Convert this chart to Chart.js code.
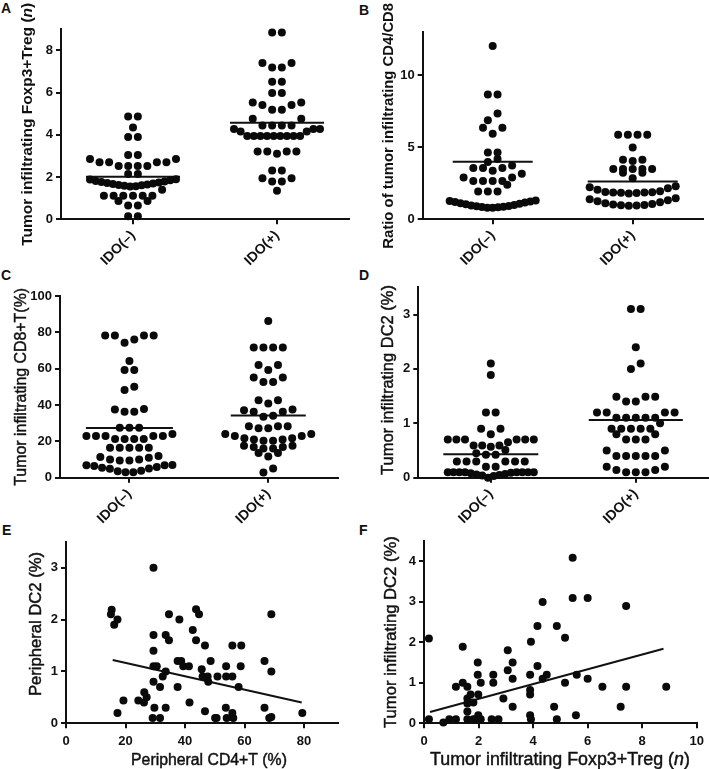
<!DOCTYPE html>
<html><head><meta charset="utf-8">
<script src="https://cdn.jsdelivr.net/npm/chart.js@4.4.1/dist/chart.umd.min.js"></script>
<style>
html,body{margin:0;padding:0;background:#fff;}
body{width:709px;height:769px;position:relative;overflow:hidden;font-family:"Liberation Sans",Arial,sans-serif;}
canvas{position:absolute;}
.lbl{position:absolute;font-weight:bold;font-size:14px;line-height:14px;color:#111;}
</style></head><body>
<div class="lbl" style="left:1px;top:1px">A</div>
<div class="lbl" style="left:359px;top:3px">B</div>
<div class="lbl" style="left:1px;top:268px">C</div>
<div class="lbl" style="left:359px;top:268px">D</div>
<div class="lbl" style="left:2px;top:523px">E</div>
<div class="lbl" style="left:359px;top:523px">F</div>
<canvas id="cA" width="355" height="272" style="left:0px;top:0px"></canvas>
<canvas id="cB" width="354" height="272" style="left:355px;top:0px"></canvas>
<canvas id="cC" width="355" height="272" style="left:0px;top:260px"></canvas>
<canvas id="cD" width="354" height="272" style="left:355px;top:260px"></canvas>
<canvas id="cE" width="355" height="239" style="left:0px;top:530px"></canvas>
<canvas id="cF" width="354" height="239" style="left:355px;top:530px"></canvas>
<script>
// ---------- DATA ----------
const groups = ['IDO(–)', 'IDO(+)'];

// A: Tumor infiltrating Foxp3+Treg (n)
const tregNeg = [0.15,0.15,0.65,0.65,0.87,0.87,1.12,1.12,1.12,1.12,1.12,1.12,1.4,
  1.55,1.57,1.59,1.61,1.63,1.65,1.67,1.7,1.72,1.74,1.77,1.79,1.82,1.85,1.88,1.9,
  2.15,2.15,2.52,2.52,2.52,2.52,2.7,2.7,2.7,2.7,2.86,2.86,3.05,3.05,3.9,3.9,4.35,4.87,4.87];
const tregPos = [1.35,1.79,1.79,1.94,1.94,2.31,2.31,3.1,3.21,3.21,3.21,3.21,
  3.95,3.95,3.95,3.95,3.95,3.95,3.95,3.95,3.95,4.16,4.16,4.28,4.28,4.28,
  4.44,4.44,4.44,4.44,4.76,4.76,5.19,5.19,5.41,5.41,5.53,5.53,5.98,5.98,6.51,6.51,
  7.19,7.19,7.4,7.4,8.85,8.85];
const tregMean = [2.02, 4.57];
const tregTicks = [0,2,4,6,8];

// B: Ratio of tumor infiltrating CD4/CD8
const ratioNeg = [0.8,0.81,0.83,0.85,0.87,0.9,0.93,0.96,1.0,1.04,1.08,1.12,1.16,1.2,1.24,1.27,1.3,
  1.93,1.93,1.93,2.4,2.67,2.67,2.67,2.67,2.9,2.9,3.16,3.37,3.56,3.56,3.56,3.74,3.98,4.19,
  4.65,4.65,5.95,6.37,6.37,6.88,7.35,8.67,8.67,12.05];
const ratioPos = [0.95,0.96,0.98,1.0,1.03,1.06,1.12,1.18,1.25,1.32,1.4,1.46,
  1.8,1.82,1.84,1.86,1.86,1.88,1.9,1.95,2.05,2.16,2.23,2.3,
  2.86,3.23,3.23,3.49,3.49,3.49,3.49,3.49,4.05,4.14,4.14,5.0,5.88,5.88,5.88,5.88];
const ratioMean = [4.0, 2.63];
const ratioTicks = [0,5,10];

// C: Tumor infiltrating CD8+T (%)
const cd8Neg = [3.0,3.0,3.6,3.8,4.9,5.0,5.5,5.9,6.4,6.8,6.9,7.0,
  9.5,9.5,10,10,11,11.4,12,16.5,16.5,16.5,16.5,16.5,
  21.3,21.3,21.3,21.3,22.9,22.9,22.9,22.9,22.9,24,27.5,27.5,27.5,
  36.3,36.3,37.5,37.8,48.3,50.1,59.3,59.3,64.2,74.3,76.1,78.2,78.2,78.2,78.2];
const cd8Pos = [2.9,5.1,11.7,13.6,13.6,16.1,16.1,16.9,16.9,17.6,17.6,
  20.4,20.4,21,21,21.7,21.7,22.9,22.9,24,24,27.2,27.2,28.3,28.3,28.3,
  33.5,34.1,36.3,36.3,37.1,37.5,40.9,42.6,42.6,52.7,52.7,55.2,55.2,59.3,62,62,
  71.6,71.6,71.6,71.6,86.2];
const cd8Mean = [27.3, 34.3];
const cd8Ticks = [0,20,40,60,80,100];

// D: Tumor infiltrating DC2 (%)
const dc2Neg = [0.0,0.03,0.04,0.05,0.06,0.07,0.08,0.09,0.1,0.1,0.1,0.1,0.1,0.1,0.1,0.1,
  0.2,0.2,0.3,0.3,0.3,0.3,0.3,0.3,0.42,0.42,0.45,0.51,
  0.57,0.59,0.59,0.59,0.65,0.7,0.7,0.7,0.7,0.7,0.7,0.8,0.9,0.9,1.2,1.2,1.89,2.1];
const dc2Pos = [0.1,0.1,0.1,0.14,0.14,0.2,0.2,0.4,0.4,0.4,0.4,0.4,0.5,0.5,
  0.7,0.7,0.7,0.8,0.8,0.9,0.9,0.9,0.9,0.9,1.0,1.1,1.1,1.1,1.1,1.1,1.2,1.2,1.2,1.2,
  1.4,1.4,1.49,1.49,1.49,2.0,2.1,2.4,3.1,3.1];
const dc2Mean = [0.43, 1.06];
const dc2Ticks = [0,1,2,3];

// E: Peripheral CD4+T (%) vs Peripheral DC2 (%)
const periCD4 = [15.35,15.1,16.2,17.3,17.3,19.3,24.3,26.2,26.3,27.1,29.4,29.4,29.4,29.4,30.5,29.4,29.7,29.1,31.6,31.6,
  32.5,33.5,33.5,34.6,34.6,33.5,37.5,38.1,37.5,38.7,39.4,41.3,41.5,42.6,43.7,44.7,43.7,45.6,45.9,46.7,
  47.6,47.8,46.7,48.6,50.1,50.6,50.9,53.8,53.8,53.7,54,55.9,55.9,55.9,56.2,58,58.7,58.9,66.7,66.7,
  68.3,69,69,69,79.4];
const periDC2 = [2.19,2.1,1.9,2.0,0.2,0.44,0.44,0.4,0.6,0.5,3.0,1.7,1.4,1.1,1.1,0.8,0.3,0.1,0.1,0.7,
  0.9,1.0,1.7,1.6,2.1,0.3,0.7,2.0,1.2,1.2,1.1,1.1,0.4,1.8,2.2,2.1,1.6,1.04,0.9,1.5,
  0.9,0.8,0.23,1.2,0.1,0.1,0.9,1.1,0.9,0.3,0.1,1.5,0.9,0.2,0.1,0.7,1.1,1.5,1.2,0.3,
  0.1,0.12,1.0,2.1,0.2];
const fitEx = [15.7, 79.2];
const fitEy = [1.22, 0.40];
const eXTicks = [0,20,40,60,80];
const eYTicks = [0,1,2,3];

// F: Tumor infiltrating Foxp3+Treg (n) vs Tumor infiltrating DC2 (%)
const tumTreg = [0.18,0.18,0.71,0.93,1.17,1.17,1.42,1.42,1.59,1.59,1.59,1.59,1.59,1.71,1.81,1.87,1.97,1.97,1.99,1.99,
  2.08,2.08,1.81,2.48,2.54,2.54,2.73,2.91,3.07,3.07,3.25,3.25,3.25,3.89,3.92,3.89,3.89,3.89,3.92,4.16,
  4.16,4.35,4.35,4.5,4.77,4.87,4.87,5.17,5.17,5.45,5.45,5.6,5.57,6.0,6.0,6.54,7.21,7.41,7.41,8.88];
const tumDC2 = [2.09,0.1,0.02,0.1,0.1,0.9,1.89,1.0,0.9,0.61,0.49,0.29,0.1,0.71,0.51,0.1,1.5,1.2,0.71,0.2,
  0.1,1.0,0.1,0.1,1.2,1.0,0.1,0.61,1.8,1.31,1.5,1.1,0.41,1.2,2.01,0.82,0.71,0.2,0.1,1.41,
  2.4,2.99,1.1,1.2,0.41,2.4,0.1,2.11,1.0,4.08,3.09,1.2,0.2,3.09,1.1,0.9,0.41,2.89,0.9,0.9];
const fitFx = [0.22, 8.78];
const fitFy = [0.28, 1.84];
const fXTicks = [0,2,4,6,8,10];
const fYTicks = [0,1,2,3,4];

// ---------- RENDERING ----------
const FONT = '"Liberation Sans", Arial, Helvetica, sans-serif';
const INK = '#111';
Chart.defaults.font.family = FONT;
Chart.defaults.color = INK;
Chart.defaults.animation = false;

// draws a (possibly mixed italic) title centred at x,y, sized to span `len` pixels
function drawRich(ctx, t, x, y, rot) {
  ctx.save();
  ctx.translate(x, y);
  ctx.rotate(rot);
  ctx.fillStyle = INK;
  ctx.strokeStyle = INK;
  ctx.lineWidth = 0.45;
  ctx.lineJoin = 'round';
  ctx.textBaseline = 'middle';
  ctx.textAlign = 'left';
  const w = t.bold ? 'bold ' : '';
  const fontOf = (p, size) => (p.i ? 'italic ' : '') + w + size + 'px ' + FONT;
  const measure = size => t.parts.reduce((s, p) => { ctx.font = fontOf(p, size); return s + ctx.measureText(p.t).width; }, 0);
  const size = 20 * t.len / measure(20);
  const total = measure(size);
  let cx = -total / 2;
  t.parts.forEach(p => {
    ctx.font = fontOf(p, size);
    ctx.fillText(p.t, cx, 0);
    if (!t.bold) ctx.strokeText(p.t, cx, 0);
    cx += ctx.measureText(p.t).width;
  });
  ctx.restore();
}
const titlePlugin = {
  id: 'panelTitles',
  afterDraw(chart, args, opts) {
    const ca = chart.chartArea, ctx = chart.ctx;
    if (opts.y) drawRich(ctx, opts.y, opts.y.x, opts.y.cy != null ? opts.y.cy : (ca.top + ca.bottom) / 2, -Math.PI / 2);
    if (opts.x) drawRich(ctx, opts.x, opts.x.cx != null ? opts.x.cx : (ca.left + ca.right) / 2, opts.x.y, 0);
  }
};

function axisStyle(extra) {
  return Object.assign({
    grid: {display: true, drawOnChartArea: false, drawTicks: true, tickLength: 5, color: INK, lineWidth: 2},
    border: {display: true, color: INK, width: 2},
  }, extra);
}

function baseOptions(W, H, box, scales, titles) {
  return {
    responsive: false, animation: false, events: [],
    layout: {autoPadding: false, padding: {top: box.top, right: W - box.right, left: 0, bottom: 0}},
    plugins: {legend: {display: false}, tooltip: {enabled: false}, panelTitles: titles},
    scales: scales
  };
}

const dotStyle = {pointRadius: 4, pointHoverRadius: 4, pointBackgroundColor: '#0a0a0a', pointBorderWidth: 0, showLine: false, clip: false};
const lineStyle = {type: 'line', borderColor: INK, borderWidth: 2, pointRadius: 0, fill: false, clip: false};
const tickFont = {size: 13, weight: 'bold'};

const ROW_T = 7.5, SPACING = 9.7, MAX_ROW = 86;
function swarm(chart, values, cx) {
  const xs = chart.scales.x, ys = chart.scales.y;
  const cpx = xs.getPixelForValue(cx);
  const sorted = values.slice().sort((a, b) => a - b);
  const rows = [];
  let cur = null;
  for (const v of sorted) {
    const py = ys.getPixelForValue(v);
    if (!cur || cur.p0 - py > ROW_T) { cur = {p0: py, vals: []}; rows.push(cur); }
    cur.vals.push(v);
  }
  const pts = [];
  for (const r of rows) {
    const n = r.vals.length;
    const s = n > 1 ? Math.min(SPACING, MAX_ROW / (n - 1)) : 0;
    r.vals.forEach((v, k) => {
      let off;
      if (n % 2) { const m = Math.ceil(k / 2); off = (k % 2 ? -m : m); }
      else { const m = Math.floor(k / 2) + 0.5; off = (k % 2 ? m : -m); }
      pts.push({x: xs.getValueForPixel(cpx + off * s), y: v});
    });
  }
  return pts;
}

function dotPlot(id, neg, pos, means, yMax, yTicks, box, yTitle, halfPx) {
  const cv = document.getElementById(id);
  const W = cv.width, H = cv.height;
  const scales = {
    x: axisStyle({type: 'linear', min: 0, max: groups.length,
      afterBuildTicks: s => { s.ticks = groups.map((g, i) => ({value: i + 0.5})); },
      afterFit: s => { s.height = H - box.bottom; },
      ticks: {autoSkip: false, minRotation: 45, maxRotation: 45, padding: 3,
        font: {size: 14, weight: 'bold'}, color: INK, callback: (v, i) => groups[i]}}),
    y: axisStyle({type: 'linear', min: 0, max: yMax,
      afterBuildTicks: s => { s.ticks = yTicks.map(v => ({value: v})); },
      afterFit: s => { s.width = box.left; },
      ticks: {padding: 3, font: tickFont, color: INK}})
  };
  const chart = new Chart(cv, {
    type: 'scatter',
    data: {datasets: [
      Object.assign({data: []}, dotStyle),
      Object.assign({data: []}, dotStyle),
      Object.assign({data: []}, lineStyle),
      Object.assign({data: []}, lineStyle)
    ]},
    options: baseOptions(W, H, box, scales, {y: yTitle}),
    plugins: [titlePlugin]
  });
  const xs = chart.scales.x;
  [neg, pos].forEach((vals, i) => {
    const c = i + 0.5;
    chart.data.datasets[i].data = swarm(chart, vals, c);
    const cpx = xs.getPixelForValue(c);
    chart.data.datasets[i + 2].data = [
      {x: xs.getValueForPixel(cpx - halfPx[i]), y: means[i]},
      {x: xs.getValueForPixel(cpx + halfPx[i]), y: means[i]}
    ];
  });
  chart.update('none');
  return chart;
}

function scatterPlot(id, xv, yv, fx, fy, xMax, yMax, xTicks, yTicks, box, titles) {
  const cv = document.getElementById(id);
  const W = cv.width, H = cv.height;
  const scales = {
    x: axisStyle({type: 'linear', min: 0, max: xMax,
      afterBuildTicks: s => { s.ticks = xTicks.map(v => ({value: v})); },
      afterFit: s => { s.height = H - box.bottom; },
      ticks: {autoSkip: false, maxRotation: 0, padding: 5, font: tickFont, color: INK}}),
    y: axisStyle({type: 'linear', min: 0, max: yMax,
      afterBuildTicks: s => { s.ticks = yTicks.map(v => ({value: v})); },
      afterFit: s => { s.width = box.left; },
      ticks: {padding: 3, font: tickFont, color: INK}})
  };
  return new Chart(cv, {
    type: 'scatter',
    data: {datasets: [
      Object.assign({data: xv.map((x, i) => ({x: x, y: yv[i]}))}, dotStyle),
      Object.assign({data: fx.map((x, i) => ({x: x, y: fy[i]}))}, lineStyle)
    ]},
    options: baseOptions(W, H, box, scales, titles),
    plugins: [titlePlugin]
  });
}

const P = s => [{t: s}];
const tregTitle = [{t: 'Tumor infiltrating Foxp3+Treg ('}, {t: 'n', i: true}, {t: ')'}];

dotPlot('cA', tregNeg, tregPos, tregMean, 9, tregTicks,
  {left: 61, top: 29.3, right: 349, bottom: 219.3},
  {parts: tregTitle, bold: true, len: 243, x: 27.5}, [47, 47]);
dotPlot('cB', ratioNeg, ratioPos, ratioMean, 13, ratioTicks,
  {left: 67.7, top: 32.3, right: 347.7, bottom: 219.3},
  {parts: P('Ratio of tumor infiltrating CD4/CD8'), bold: true, len: 246, x: 33.5}, [40, 45]);
dotPlot('cC', cd8Neg, cd8Pos, cd8Mean, 100, cd8Ticks,
  {left: 60, top: 36, right: 337.7, bottom: 217.7},
  {parts: P('Tumor infiltrating CD8+T(%)'), len: 198, x: 21.7}, [43.5, 37.5]);
dotPlot('cD', dc2Neg, dc2Pos, dc2Mean, 3.5, dc2Ticks,
  {left: 63.3, top: 27.3, right: 353.3, bottom: 217.7},
  {parts: P('Tumor infiltrating DC2 (%)'), len: 190, x: 33.5, cy: 120}, [47.5, 47]);
scatterPlot('cE', periCD4, periDC2, fitEx, fitEy, 91.5, 3.5, eXTicks, eYTicks,
  {left: 66, top: 11.7, right: 338.3, bottom: 193.3},
  {y: {parts: P('Peripheral DC2 (%)'), len: 144, x: 36, cy: 94},
   x: {parts: P('Peripheral CD4+T (%)'), len: 156, cx: 209, y: 230.5}});
scatterPlot('cF', tumTreg, tumDC2, fitFx, fitFy, 10, 4.5, fXTicks, fYTicks,
  {left: 69, top: 10.7, right: 343.7, bottom: 193.3},
  {y: {parts: P('Tumor infiltrating DC2 (%)'), len: 192, x: 36},
   x: {parts: tregTitle, len: 260, cx: 205, y: 230.5}});
</script>
</body></html>
